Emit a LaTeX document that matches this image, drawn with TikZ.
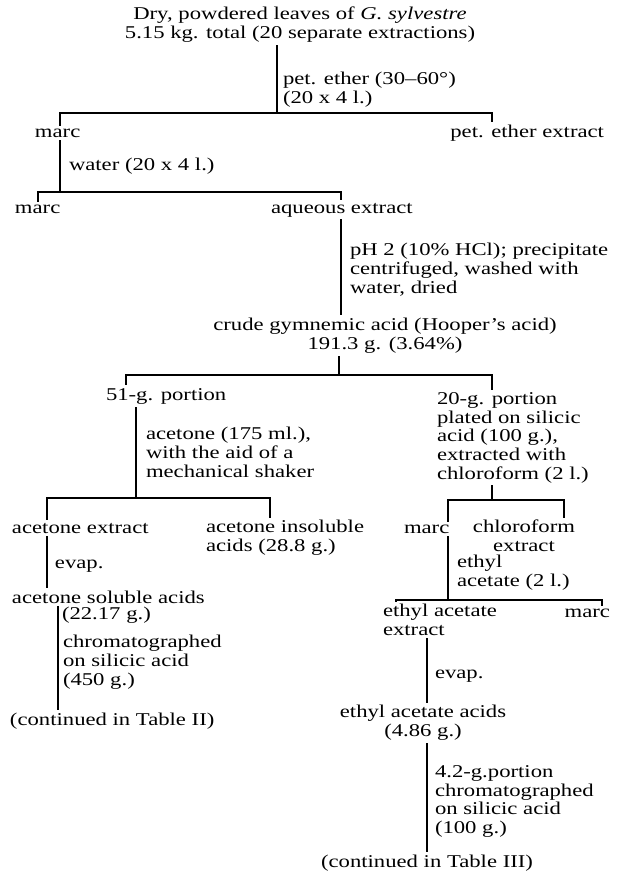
\documentclass[tikz,border=0pt]{standalone}
\usepackage{fontspec}
\setmainfont{Liberation Serif}[FakeStretch=1.26]
\begin{document}
\begin{tikzpicture}[x=0.75pt,y=-0.75pt,
  every node/.style={font=\fontsize{13.5pt}{14pt}\selectfont, inner xsep=0pt, inner ysep=2.5pt, outer sep=0pt},
  lbl/.style={anchor=base west, align=left},
  ctr/.style={anchor=base, align=center},
  rgt/.style={anchor=base east, align=right},
  ln/.style={line width=1.05pt, line cap=rect}]
\useasboundingbox (0,0) rectangle (618,872);
\fill[white] (0,0) rectangle (618,872);
% texts (base = baseline of the last line)
\node[ctr] (dry) at (300,38.5) {Dry, powdered leaves of \textit{G. sylvestre}\\5.15 kg. total (20 separate extractions)};
\node[lbl] (pe) at (283,103.5) {pet. ether (30–60°)\\(20 x 4 l.)};
\node[lbl] (marcA) at (35,137) {marc};
\node[rgt] (petx) at (604,137) {pet. ether extract};
\node[lbl] (water) at (69,170) {water (20 x 4 l.)};
\node[lbl] (marcB) at (15,213) {marc};
\node[lbl] (aq) at (271,213) {aqueous extract};
\node[lbl] (ph) at (350,293) {pH 2 (10\% HCl); precipitate\\centrifuged, washed with\\water, dried};
\node[ctr] (crude) at (385,349) {crude gymnemic acid (Hooper’s acid)\\191.3 g. (3.64\%)};
\node[lbl] (p51) at (106,400) {51-g. portion};
\node[lbl] (p20) at (437,479) {20-g. portion\\plated on silicic\\acid (100 g.),\\extracted with\\chloroform (2 l.)};
\node[lbl] (acet) at (146,477) {acetone (175 ml.),\\with the aid of a\\mechanical shaker};
\node[lbl] (aext) at (12,533) {acetone extract};
\node[lbl] (ains) at (206,551.5) {acetone insoluble\\acids (28.8 g.)};
\node[lbl] (marcC) at (404,533) {marc};
\node[ctr] (chx) at (524,551.5) {chloroform\\extract};
\node[lbl] (evapA) at (55,568) {evap.};
\node[lbl] (ethy) at (457,586.5) {ethyl\\acetate (2 l.)};
\node[lbl] (asol) at (12,603) {acetone soluble acids};
\node[lbl] (asolw) at (62,619) {(22.17 g.)};
\node[lbl] (chromA) at (63,685) {chromatographed\\on silicic acid\\(450 g.)};
\node[lbl] (contA) at (10,725) {(continued in Table II)};
\node[lbl] (eae) at (383,635.5) {ethyl acetate\\extract};
\node[rgt] (marcD) at (610,617) {marc};
\node[lbl] (evapB) at (435,678) {evap.};
\node[ctr] (eaa) at (423,736.5) {ethyl acetate acids\\(4.86 g.)};
\node[lbl] (chromB) at (435,833.5) {4.2-g.portion\\chromatographed\\on silicic acid\\(100 g.)};
\node[ctr] (contB) at (427,867) {(continued in Table III)};
% junctions
\coordinate (j1) at (277,113); \coordinate (t1a) at (60,113); \coordinate (t1b) at (492,113);
\coordinate (j2) at (60,192); \coordinate (t2a) at (38,192); \coordinate (t2b) at (341,192);
\coordinate (j4) at (339,375); \coordinate (t4a) at (126,375); \coordinate (t4b) at (492,375);
\coordinate (j5) at (136,498); \coordinate (t5a) at (47,498); \coordinate (t5b) at (270,498);
\coordinate (j6) at (492,500); \coordinate (t6a) at (448,500); \coordinate (t6b) at (564,500);
\coordinate (v8) at (58,700);
\coordinate (j9) at (448,600); \coordinate (t9a) at (396,600); \coordinate (t9b) at (602,600);
\coordinate (v10) at (427,700);
% connectors
\draw[ln] (j1 |- dry.south) -- (j1);
\draw[ln] (t1a |- marcA.north) -- (t1a) -- (t1b) -- (t1b |- petx.north);
\draw[ln] (j2 |- marcA.south) -- (j2);
\draw[ln] (t2a |- marcB.north) -- (t2a) -- (t2b) -- (t2b |- aq.north);
\draw[ln] (t2b |- aq.south) -- (t2b |- crude.north);
\draw[ln] (j4 |- crude.south) -- (j4);
\draw[ln] (t4a |- p51.north) -- (t4a) -- (t4b) -- (t4b |- p20.north);
\draw[ln] (j5 |- p51.south) -- (j5);
\draw[ln] (t5a |- aext.north) -- (t5a) -- (t5b) -- (t5b |- ains.north);
\draw[ln] (j6 |- p20.south) -- (j6);
\draw[ln] (t6a |- marcC.north) -- (t6a) -- (t6b) -- (t6b |- chx.north);
\draw[ln] (t5a |- aext.south) -- (t5a |- asol.north);
\draw[ln] (v8 |- asol.south) -- (v8 |- contA.north);
\draw[ln] (t6a |- marcC.south) -- (j9);
\draw[ln] (t9a |- eae.north) -- (t9a) -- (t9b) -- (t9b |- marcD.north);
\draw[ln] (v10 |- eae.south) -- (v10 |- eaa.north);
\draw[ln] (v10 |- eaa.south) -- (v10 |- contB.north);
\end{tikzpicture}
\end{document}
